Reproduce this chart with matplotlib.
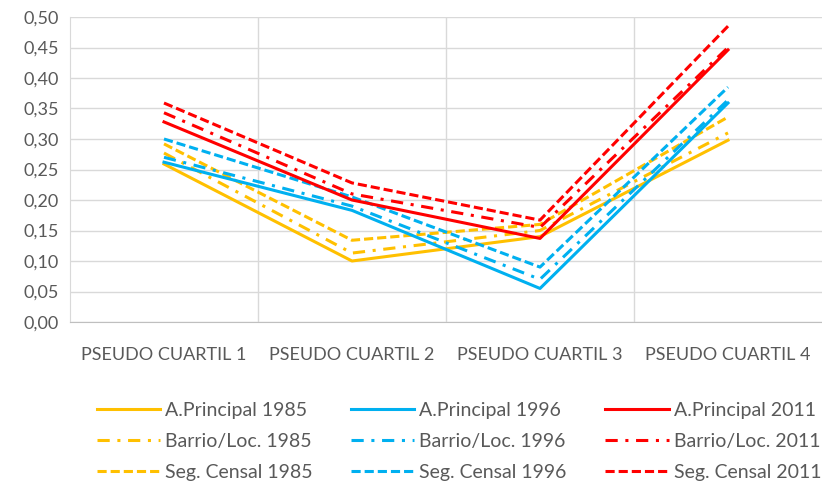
import numpy as np
import matplotlib.pyplot as plt
from matplotlib.ticker import FixedLocator, FuncFormatter

plt.rcParams['font.family'] = ['Lato', 'DejaVu Sans']

categories = ['PSEUDO CUARTIL 1', 'PSEUDO CUARTIL 2', 'PSEUDO CUARTIL 3', 'PSEUDO CUARTIL 4']

# valores
ap_1985 = [0.259, 0.100, 0.140, 0.298]
ap_1996 = [0.262, 0.183, 0.055, 0.359]
ap_2011 = [0.328, 0.200, 0.137, 0.446]
bl_1985 = [0.277, 0.113, 0.150, 0.310]
bl_1996 = [0.270, 0.190, 0.070, 0.364]
bl_2011 = [0.343, 0.210, 0.155, 0.450]
sc_1985 = [0.292, 0.134, 0.160, 0.336]
sc_1996 = [0.300, 0.205, 0.090, 0.385]
sc_2011 = [0.359, 0.228, 0.167, 0.485]

naranja = '#FFC000'
azul = '#00B0F0'
rojo = '#FF0000'

series = [
    ('A.Principal 1985', ap_1985, naranja, 'solid'),
    ('Barrio/Loc. 1985', bl_1985, naranja, 'dashdot'),
    ('Seg. Censal 1985', sc_1985, naranja, 'dashed'),
    ('A.Principal 1996', ap_1996, azul, 'solid'),
    ('Barrio/Loc. 1996', bl_1996, azul, 'dashdot'),
    ('Seg. Censal 1996', sc_1996, azul, 'dashed'),
    ('A.Principal 2011', ap_2011, rojo, 'solid'),
    ('Barrio/Loc. 2011', bl_2011, rojo, 'dashdot'),
    ('Seg. Censal 2011', sc_2011, rojo, 'dashed'),
]
estilos = {'solid': '-', 'dashdot': (0, (4, 2.5, 1, 2.5)), 'dashed': (0, (3, 1.3))}

fig = plt.figure(figsize=(8.22, 4.87), dpi=100)
ax = fig.add_axes([70 / 822, 1 - 322 / 487, 752 / 822, 305 / 487])

x = np.arange(len(categories))
for nombre, vals, col, ls in series:
    ax.plot(x, vals, color=col, linestyle=estilos[ls], linewidth=2.2, label=nombre)

ax.set_xlim(-0.5, 3.5)
ax.set_ylim(0, 0.5)
ax.set_yticks(np.arange(0, 0.501, 0.05))
ax.yaxis.set_major_formatter(FuncFormatter(lambda v, p: f'{v:.2f}'.replace('.', ',')))
ax.set_xticks(x)
ax.set_xticklabels(categories)
ax.xaxis.set_minor_locator(FixedLocator([0.5, 1.5, 2.5]))
ax.grid(axis='y', color='#D9D9D9', linewidth=1)
ax.grid(axis='x', which='minor', color='#D9D9D9', linewidth=1)
ax.set_axisbelow(True)
for s in ['top', 'right']:
    ax.spines[s].set_visible(False)
ax.spines['left'].set_color('#D9D9D9')
ax.spines['bottom'].set_color('#BFBFBF')
ax.tick_params(axis='both', which='both', length=0, colors='#595959', labelsize=13)
ax.tick_params(axis='x', pad=18)
ax.tick_params(axis='y', pad=8)

ax.legend(loc='center', bbox_to_anchor=(0.517, -0.392), ncol=3, frameon=False,
          fontsize=14, labelcolor='#595959', handlelength=3.25, handletextpad=0.25,
          columnspacing=2.0, labelspacing=0.72)

plt.savefig('out.png', dpi=100)
